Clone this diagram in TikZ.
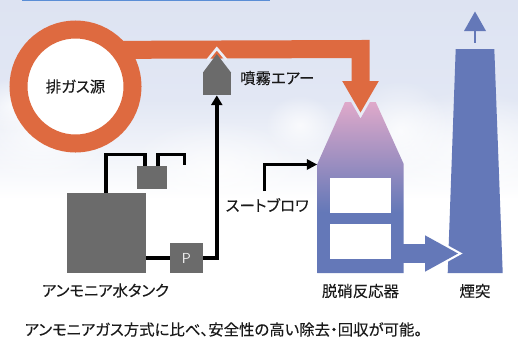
\documentclass[tikz,border=0pt]{standalone}
\usepackage{fontspec}
\setmainfont{Noto Sans CJK JP}[FakeBold=0.12,RawFeature=+palt]
\usetikzlibrary{fadings,calc}
\definecolor{skyc}{HTML}{DDE3F2}
\definecolor{orangec}{HTML}{DE6A40}
\definecolor{grayc}{HTML}{6B6B6B}
\definecolor{bluec}{HTML}{6478B8}
\definecolor{pinkc}{HTML}{DFA9CA}
\definecolor{textc}{HTML}{1A1A1A}
\definecolor{stripec}{HTML}{5A8ED6}
\pgfdeclareverticalshading{reactorshade}{100bp}{color(0bp)=(bluec); color(42.8bp)=(bluec); color(75bp)=(pinkc); color(100bp)=(pinkc)}
\tikzset{
  x=1pt,y=-1pt,
  graybox/.style={fill=grayc,draw=none,inner sep=0pt,outer sep=0pt,text=white},
  pipe/.style={draw=black,line width=3.9pt,miter limit=10},
  label/.style={text=textc,inner sep=0pt,font=\fontsize{15.4}{16}\selectfont},
  windowbox/.style={fill=white,draw=none,inner sep=0pt,minimum width=61pt,minimum height=35pt},
  cloud/.style={fill=white,path fading=fuzzy,draw=none}
}
\tikzfading[name=fuzzy, inner color=transparent!25, outer color=transparent!100]
\begin{document}
\begin{tikzpicture}
\useasboundingbox (0,0) rectangle (518,338);
% sky
\shade[top color=skyc,bottom color=white,middle color=skyc!85!white] (0,0) rectangle (518,200);
\fill[white] (0,198) rectangle (518,338);
\fill[cloud] (40,135) ellipse (70 and 50);
\fill[cloud] (15,105) ellipse (40 and 28);
\fill[cloud] (215,170) ellipse (90 and 50);
\fill[cloud] (470,150) ellipse (100 and 60);
\fill[cloud] (400,130) ellipse (50 and 50);
\fill[cloud] (300,125) ellipse (35 and 30);
% top stripe
\fill[stripec] (22,-1) rectangle (270,1);
% source ring
\node[circle,draw=orangec,line width=18pt,fill=white,minimum size=114pt,inner sep=0pt,outer sep=0pt,label] (src) at (75.5,86.5) {排ガス源};
% orange flow
\coordinate (hotbend) at (360.6,49);
\coordinate (hotend) at (360.6,82);
\draw[draw=orangec,line width=18pt] (src.40.4) -- (hotbend) -- (hotend);
\fill[orangec] (342.2,81) -- (378.8,81) -- (360.5,112.5) -- cycle;
% spray nozzle
\node[graybox,minimum width=28pt,minimum height=23pt] (nozzlebody) at (217,83.5) {};
\fill[grayc] (203,72.5) -- (216.8,54) -- (231,72.5) -- cycle;
\draw[draw=skyc!60!white,line width=2.6pt] (207.5,60) -- (216.8,48.5) -- (226.5,60);
\node[label,anchor=west] (air) at (240,78) {噴霧エアー};
% ammonia tank etc
\node[graybox,minimum width=79pt,minimum height=80pt] (tank) at (106.5,233) {};
\node[graybox,minimum width=30pt,minimum height=23pt] (mid) at (152,177.5) {};
\node[graybox,minimum width=33pt,minimum height=30pt,font=\sffamily\fontsize{14.5}{14}\selectfont,text=white!90!gray] (pump) at (186.5,258) {\raisebox{-3pt}{P}};
\coordinate (a1) at (106,154.5);
\coordinate (a2) at (145,154.5);
\coordinate (b1) at (158,154.5);
\coordinate (b2) at (184.5,154.5);
\coordinate (b3) at (184.5,165);
\draw[pipe] (tank.north -| a1) -- (a1) -- (a2) -- (mid.north -| a2);
\draw[pipe] (mid.north -| b1) -- (b1) -- (b2) -- (b3);
\coordinate (pl) at (146,258);
\coordinate (pr) at (203,258);
\coordinate (up) at (216.8,258);
\coordinate (uptop) at (216.8,104);
\draw[pipe] (pl) -- (pump.west);
\draw[pipe] (pr) -- (up) -- (uptop);
\fill[black] (216.8,95.5) -- (222.5,105) -- (211,105) -- cycle;
\node[label,anchor=center] (tanklabel) at (105.5,290.5) {アンモニア水タンク};
\node[label,anchor=west] (blower) at (225.5,205) {スートブロワ};
% soot blower
\coordinate (s0) at (264.5,191);
\coordinate (s1) at (264.5,164.5);
\coordinate (s2) at (308,164.5);
\draw[pipe] (s0) -- (s1) -- (s2);
\fill[black] (317,164.5) -- (306.8,159) -- (306.8,170) -- cycle;
% reactor
\shade[shading=reactorshade] (317.3,273) -- (317.3,164) -- (345,102) -- (351,102) -- (360.5,118.5) -- (370,102) -- (375.7,102) -- (403.7,164) -- (403.7,273) -- cycle;
\node[windowbox] (w1) at (360.5,195.5) {};
\node[windowbox] (w2) at (360.5,241.5) {};
\node[label] (reactorlabel) at (360.5,291) {脱硝反応器};
% stack
\coordinate (stacktop) at (475,49);
\fill[bluec] (455.7,49) -- (494.3,49) -- (502.7,273) -- (447.7,273) -- cycle;
\node[label] (stacklabel) at (475,291) {煙突};
% exhaust arrow
\coordinate (smoke0) at (475,42.5);
\coordinate (smoke1) at (475,30);
\draw[bluec,line width=2.8pt] (smoke0) -- (smoke1);
\fill[bluec] (464,31) -- (486,31) -- (475,11.5) -- cycle;
% duct
\coordinate (d0) at (403,253.5);
\coordinate (d1) at (426,253.5);
\draw[white,line width=4.4pt,miter limit=10] (425,235.3) -- (458,253.5) -- (425,271.7);
\draw[bluec,line width=19pt] (d0) -- (d1);
\fill[bluec] (425,235.3) -- (458,253.5) -- (425,271.7) -- cycle;
% caption
\node[label,anchor=west] (caption) at (24.5,329.5) {アンモニアガス方式に比べ、安全性の高い除去・回収が可能。};
\end{tikzpicture}
\end{document}
